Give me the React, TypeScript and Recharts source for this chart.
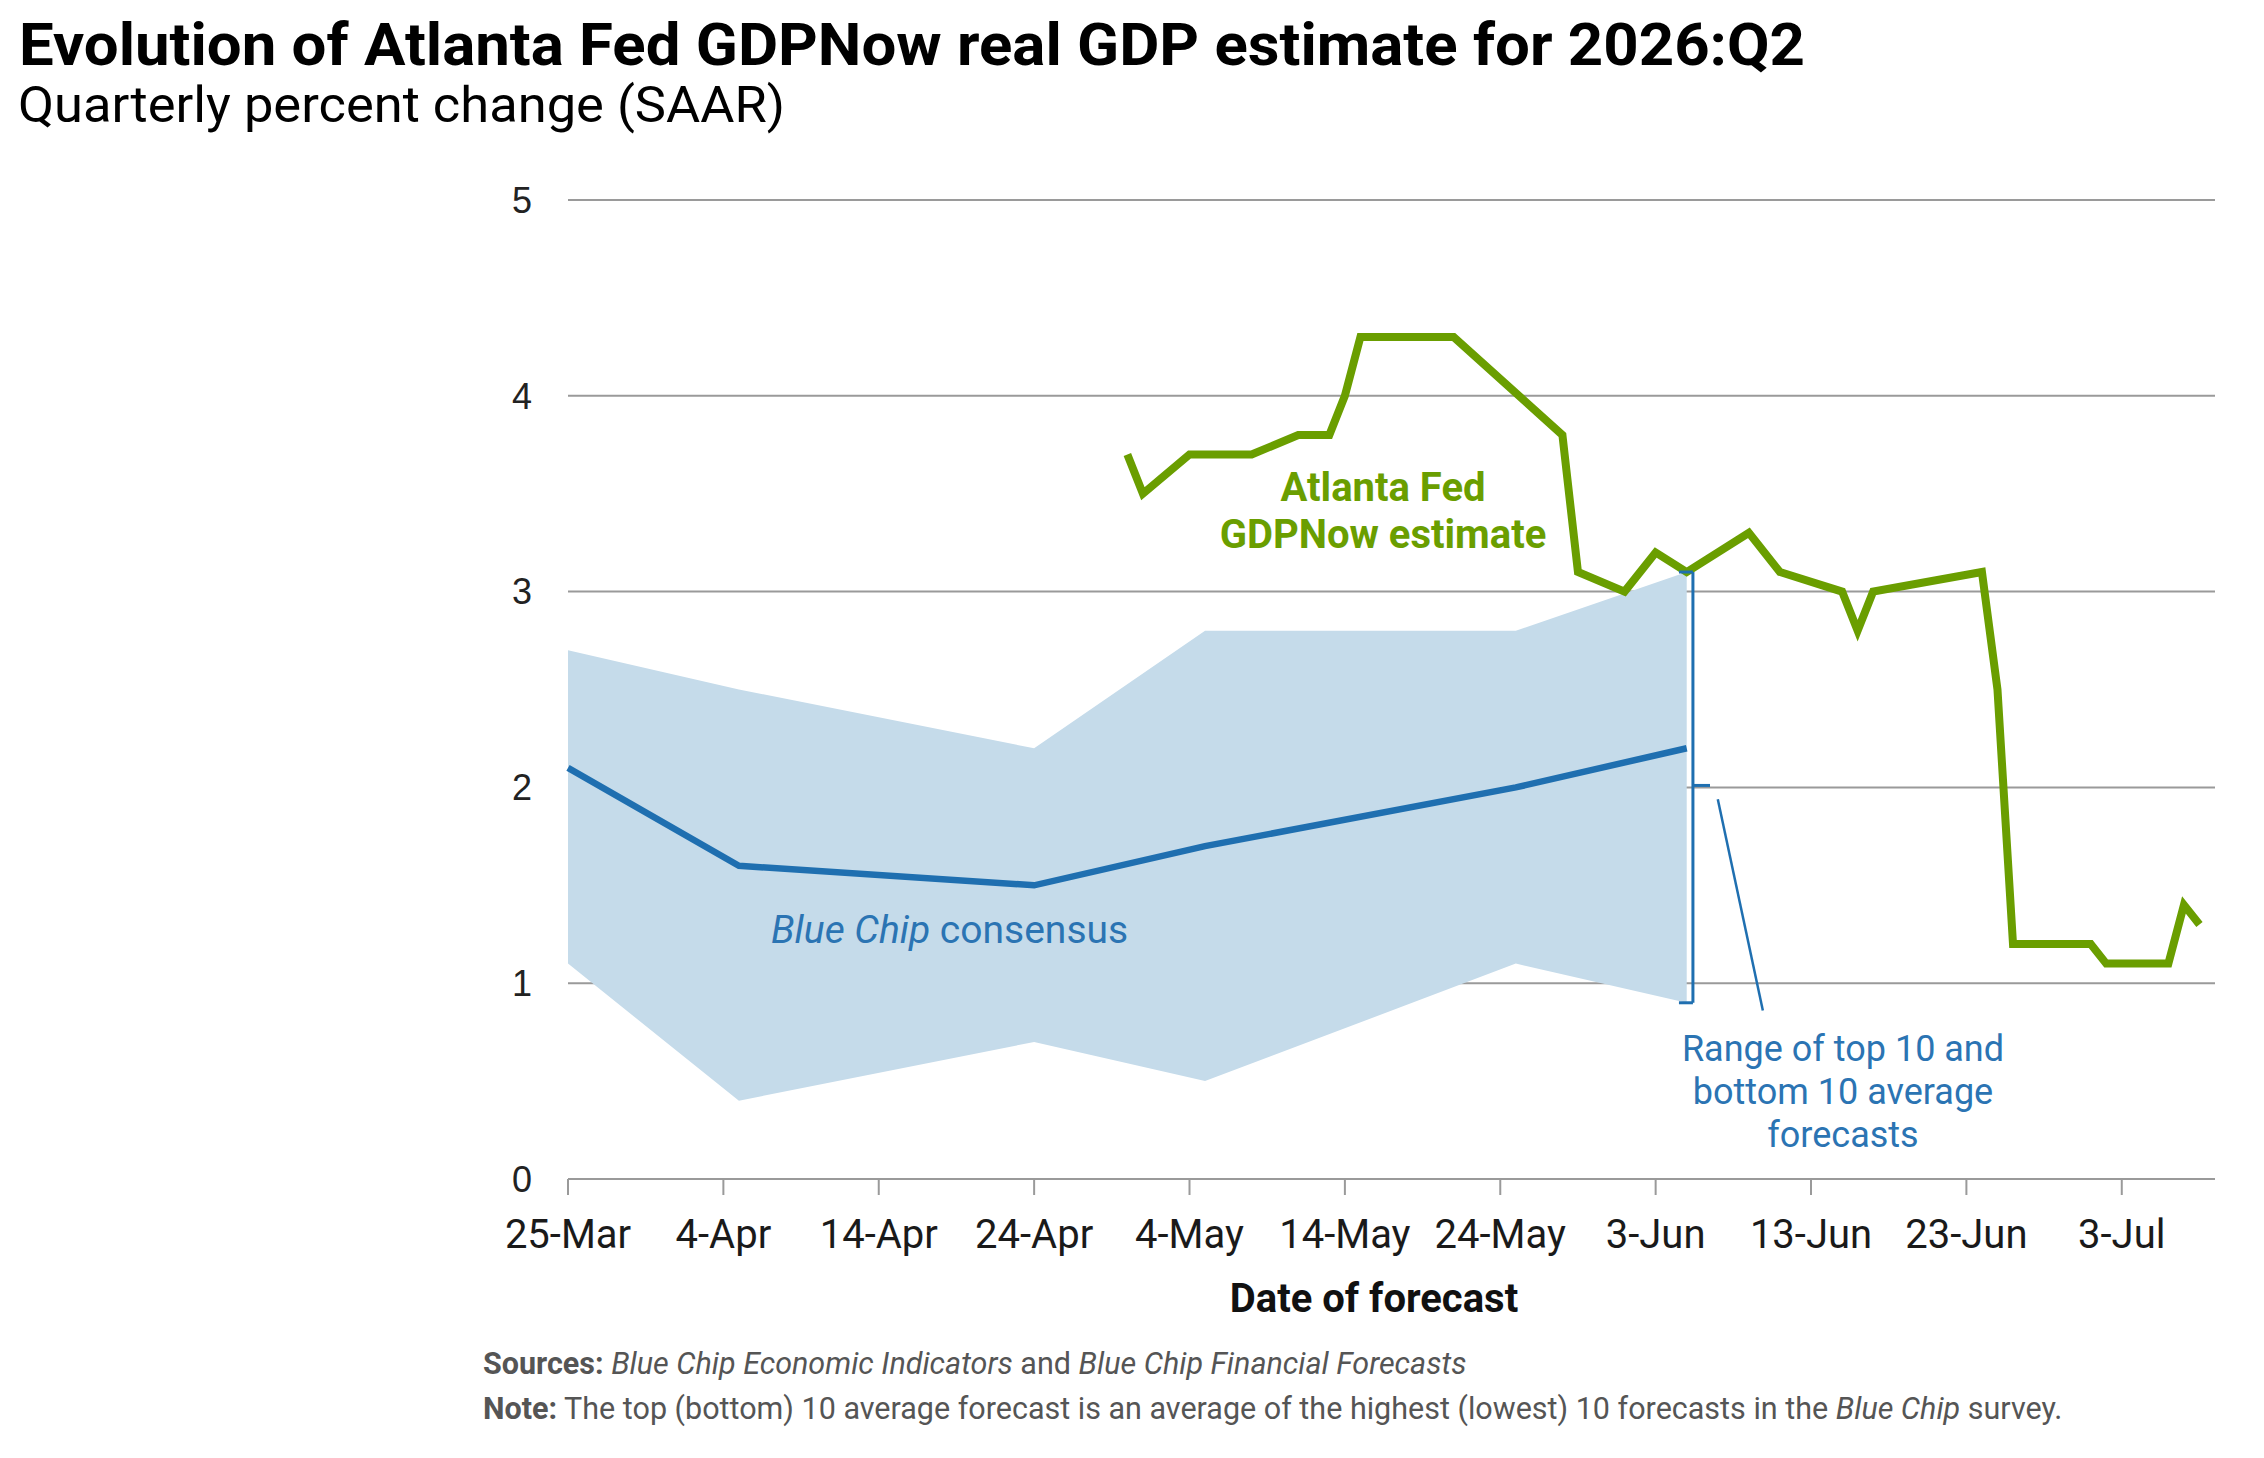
import React from "react";
import {
  Area,
  CartesianGrid,
  ComposedChart,
  Line,
  ReferenceLine,
  XAxis,
  YAxis,
} from "recharts";

// dates are MM-DD in 2026, x axis counts days from 25-Mar
const gdpNowDates = [
  "04-30", "05-01", "05-04", "05-08", "05-11", "05-13", "05-14", "05-15",
  "05-21", "05-28", "05-29", "06-01", "06-03", "06-05", "06-09", "06-11",
  "06-15", "06-16", "06-17", "06-24", "06-25", "06-26", "07-01", "07-02",
  "07-06", "07-07", "07-08",
];
const gdpNowValues = [
  3.7, 3.5, 3.7, 3.7, 3.8, 3.8, 4.0, 4.3, 4.3, 3.8, 3.1, 3.0, 3.2, 3.1, 3.3,
  3.1, 3.0, 2.8, 3.0, 3.1, 2.5, 1.2, 1.2, 1.1, 1.1, 1.4, 1.3,
];

const blueChipDates = ["03-25", "04-05", "04-24", "05-05", "05-25", "06-05"];
const consensus = [2.1, 1.6, 1.5, 1.7, 2.0, 2.2];
const top10 = [2.7, 2.5, 2.2, 2.8, 2.8, 3.1];
const bottom10 = [1.1, 0.4, 0.7, 0.5, 1.1, 0.9];

const xTicks = [0, 10, 20, 30, 40, 50, 60, 70, 80, 90, 100];
const xTickLabels = [
  "25-Mar", "4-Apr", "14-Apr", "24-Apr", "4-May", "14-May", "24-May",
  "3-Jun", "13-Jun", "23-Jun", "3-Jul",
];
const yTicks = [0, 1, 2, 3, 4, 5];

const GREEN = "#6a9e00";
const BLUE = "#1f6fb0";
const BLUE_TEXT = "#2b74b3";
const BAND = "#c5dbea";
const GRID = "#9a9a9a";
const FONT = "Roboto, 'Noto Sans', sans-serif";

const START = Date.UTC(2026, 2, 25);
const toDay = (s: string) => {
  const [m, d] = s.split("-").map(Number);
  return Math.round((Date.UTC(2026, m - 1, d) - START) / 86400000);
};

type Row = {
  day: number;
  gdp?: number;
  consensus?: number;
  band?: [number, number];
};

const buildRows = (): Row[] => {
  const byDay = new Map<number, Row>();
  const get = (day: number) => {
    if (!byDay.has(day)) byDay.set(day, { day });
    return byDay.get(day)!;
  };
  gdpNowDates.forEach((d, i) => {
    get(toDay(d)).gdp = gdpNowValues[i];
  });
  blueChipDates.forEach((d, i) => {
    const r = get(toDay(d));
    r.consensus = consensus[i];
    r.band = [bottom10[i], top10[i]];
  });
  return [...byDay.values()].sort((a, b) => a.day - b.day);
};

const rows = buildRows();

const W = 2264;
const H = 1458;

export default function App() {
  return (
    <div
      style={{
        position: "absolute",
        left: 0,
        top: 0,
        width: W,
        height: H,
        background: "#fff",
        overflow: "hidden",
      }}
    >
      <div style={{ position: "absolute", left: 0, top: 0 }}>
        <ComposedChart
          width={W}
          height={H}
          data={rows}
          margin={{ top: 200, right: 49, bottom: 0, left: 0 }}
        >
          <CartesianGrid
            vertical={false}
            stroke={GRID}
            strokeWidth={2}
          />
          <XAxis
            dataKey="day"
            type="number"
            domain={[0, 106]}
            ticks={xTicks}
            tickFormatter={(v: number) => xTickLabels[xTicks.indexOf(v)] ?? ""}
            height={279}
            stroke={GRID}
            strokeWidth={2}
            tickSize={16}
            tickMargin={25}
            tick={{ fontSize: 40, fontFamily: FONT, fill: "#1a1a1a" }}
          />
          <YAxis
            type="number"
            domain={[0, 5]}
            ticks={yTicks}
            width={568}
            axisLine={false}
            tickLine={false}
            tickSize={0}
            tickMargin={36}
            tick={{
              fontSize: 36,
              fontFamily: "'Liberation Sans', Arial, sans-serif",
              fill: "#222",
            }}
          />
          <Area
            dataKey="band"
            type="linear"
            stroke="none"
            fill={BAND}
            fillOpacity={1}
            connectNulls
            isAnimationActive={false}
          />
          <Line
            dataKey="consensus"
            type="linear"
            stroke={BLUE}
            strokeWidth={6.5}
            dot={false}
            connectNulls
            isAnimationActive={false}
          />
          <Line
            dataKey="gdp"
            type="linear"
            stroke={GREEN}
            strokeWidth={8}
            dot={false}
            connectNulls
            isAnimationActive={false}
          />
          {/* bracket for the top/bottom 10 range */}
          <ReferenceLine
            segment={[{ x: 72.4, y: 3.1 }, { x: 72.4, y: 0.9 }]}
            stroke={BLUE}
            strokeWidth={3}
          />
          <ReferenceLine
            segment={[{ x: 71.5, y: 3.1 }, { x: 72.4, y: 3.1 }]}
            stroke={BLUE}
            strokeWidth={3}
          />
          <ReferenceLine
            segment={[{ x: 71.5, y: 0.9 }, { x: 72.4, y: 0.9 }]}
            stroke={BLUE}
            strokeWidth={3}
          />
          <ReferenceLine
            segment={[{ x: 72.4, y: 2.01 }, { x: 73.5, y: 2.01 }]}
            stroke={BLUE}
            strokeWidth={3}
          />
          <ReferenceLine
            segment={[{ x: 74.0, y: 1.94 }, { x: 76.9, y: 0.86 }]}
            stroke={BLUE}
            strokeWidth={2.5}
          />
        </ComposedChart>
      </div>
      <svg
        width={W}
        height={H}
        style={{ position: "absolute", left: 0, top: 0, pointerEvents: "none" }}
      >
        <text
          x={19}
          y={65}
          fontFamily={FONT}
          fontWeight={700}
          fontSize={60}
          fill="#000"
          textLength={1786}
          lengthAdjust="spacingAndGlyphs"
        >
          Evolution of Atlanta Fed GDPNow real GDP estimate for 2026:Q2
        </text>
        <text
          x={18}
          y={122}
          fontFamily={FONT}
          fontSize={50}
          fill="#000"
          textLength={767}
          lengthAdjust="spacingAndGlyphs"
        >
          Quarterly percent change (SAAR)
        </text>

        <text
          x={1383}
          y={501}
          textAnchor="middle"
          fontFamily={FONT}
          fontWeight={700}
          fontSize={40}
          fill={GREEN}
        >
          Atlanta Fed
        </text>
        <text
          x={1383}
          y={548}
          textAnchor="middle"
          fontFamily={FONT}
          fontWeight={700}
          fontSize={40}
          fill={GREEN}
        >
          GDPNow estimate
        </text>

        <text x={771} y={943} fontFamily={FONT} fontSize={39} fill={BLUE_TEXT}>
          <tspan fontStyle="italic">Blue Chip</tspan> consensus
        </text>

        <text textAnchor="middle" fontFamily={FONT} fontSize={36} fill={BLUE_TEXT}>
          <tspan x={1843} y={1061}>Range of top 10 and</tspan>
          <tspan x={1843} y={1104}>bottom 10 average</tspan>
          <tspan x={1843} y={1147}>forecasts</tspan>
        </text>

        <text
          x={1374}
          y={1312}
          textAnchor="middle"
          fontFamily={FONT}
          fontWeight={700}
          fontSize={40}
          fill="#111"
        >
          Date of forecast
        </text>

        <text x={483} y={1374} fontFamily={FONT} fontSize={30.5} fill="#555">
          <tspan fontWeight={700}>Sources:</tspan>{" "}
          <tspan fontStyle="italic">Blue Chip Economic Indicators</tspan> and{" "}
          <tspan fontStyle="italic">Blue Chip Financial Forecasts</tspan>
        </text>
        <text x={483} y={1419} fontFamily={FONT} fontSize={30.5} fill="#555">
          <tspan fontWeight={700}>Note:</tspan> The top (bottom) 10 average
          forecast is an average of the highest (lowest) 10 forecasts in the{" "}
          <tspan fontStyle="italic">Blue Chip</tspan> survey.
        </text>
      </svg>
    </div>
  );
}
